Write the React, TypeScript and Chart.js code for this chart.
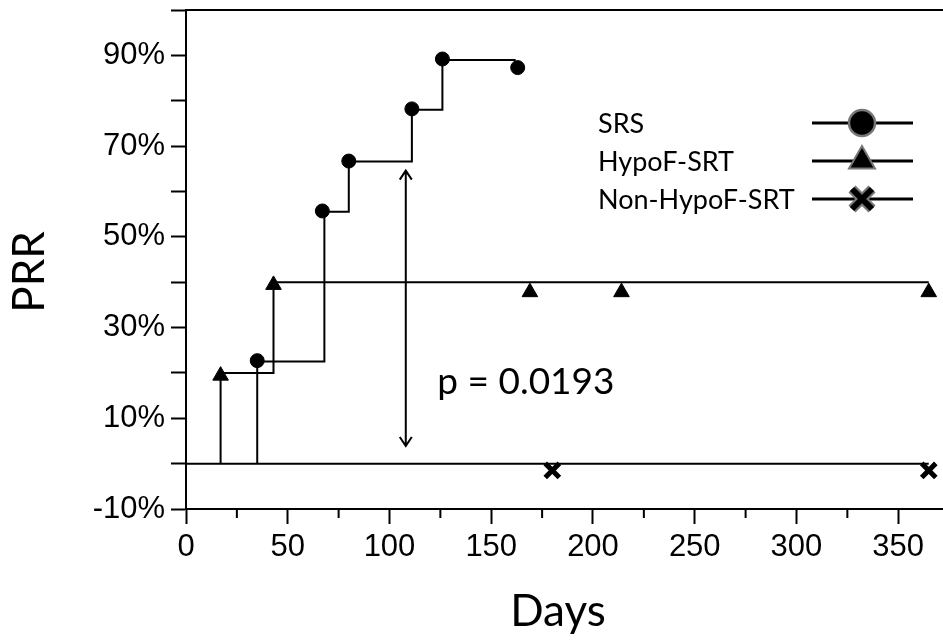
import { useEffect, useRef } from 'react';
import { Chart, registerables } from 'chart.js';

Chart.register(...registerables);

// ---- Data ----
const seriesNames = ['SRS', 'HypoF-SRT', 'Non-HypoF-SRT'];

const srsStepDays = [35, 35, 68, 80, 111, 126, 162];
const srsStepPRR = [0, 22.5, 55.5, 66.6, 78, 89, 89];
const srsMarkDays = [35, 67, 80, 111, 126, 163];
const srsMarkPRR = [22.7, 55.7, 66.7, 78.2, 89.2, 87.3];

const hypoStepDays = [17, 17, 43, 365];
const hypoStepPRR = [0, 20, 40, 40];
const hypoMarkDays = [17, 43, 169, 214, 365];
const hypoMarkPRR = [19.4, 39.4, 37.8, 37.8, 37.8];

const nonStepDays = [0, 365];
const nonStepPRR = [0, 0];
const nonMarkDays = [180, 365];
const nonMarkPRR = [-1.5, -1.5];

const xMin = 0;
const xMax = 372;
const xMajorStep = 50;
const xMinorTicks = [25, 75, 125, 175, 225, 275, 325];
const yMin = -10;
const yMax = 100;
const yLabelValues = [-10, 10, 30, 50, 70, 90];

const xTitle = 'Days';
const yTitle = 'PRR';
const pValueText = 'p = 0.0193';
const pValueDay = 123.5;
const pValuePRR = 15.3;
const arrowDay = 108;
const arrowTop = 64.6;
const arrowBottom = 3.9;

const tickFont = 'Liberation Sans';
const textFont = 'Lato';

function pts(xs: number[], ys: number[]) {
  return xs.map((x, i) => ({ x, y: ys[i] }));
}

const decorPlugin = {
  id: 'decor',
  afterDraw(chart: any) {
    const ctx: CanvasRenderingContext2D = chart.ctx;
    const xs = chart.scales.x;
    const ys = chart.scales.y;
    const area = chart.chartArea;
    ctx.save();
    ctx.strokeStyle = '#000';
    ctx.fillStyle = '#000';
    ctx.lineWidth = 2;

    // top frame line
    const yTop = ys.getPixelForValue(yMax);
    ctx.beginPath();
    ctx.moveTo(area.left, yTop);
    ctx.lineTo(chart.width, yTop);
    ctx.stroke();

    // minor x ticks
    ctx.beginPath();
    for (const v of xMinorTicks) {
      const px = xs.getPixelForValue(v);
      ctx.moveTo(px, area.bottom);
      ctx.lineTo(px, area.bottom + 9);
    }
    ctx.stroke();

    // double arrow
    const ax = xs.getPixelForValue(arrowDay);
    const at = ys.getPixelForValue(arrowTop);
    const ab = ys.getPixelForValue(arrowBottom);
    ctx.beginPath();
    ctx.moveTo(ax, at);
    ctx.lineTo(ax, ab);
    ctx.moveTo(ax - 6, at + 9);
    ctx.lineTo(ax, at);
    ctx.lineTo(ax + 6, at + 9);
    ctx.moveTo(ax - 6, ab - 9);
    ctx.lineTo(ax, ab);
    ctx.lineTo(ax + 6, ab - 9);
    ctx.stroke();

    // p value
    ctx.font = `37px ${textFont}`;
    ctx.textAlign = 'left';
    ctx.textBaseline = 'alphabetic';
    ctx.fillText(pValueText, xs.getPixelForValue(pValueDay), ys.getPixelForValue(pValuePRR));

    // axis titles
    ctx.font = `44px ${textFont}`;
    ctx.textAlign = 'center';
    ctx.textBaseline = 'middle';
    ctx.fillText(xTitle, 558, 612);
    ctx.save();
    ctx.translate(30, 272);
    ctx.rotate(-Math.PI / 2);
    ctx.fillText(yTitle, 0, 0);
    ctx.restore();

    // legend
    const rowY = [123, 161, 199];
    ctx.font = `27px ${textFont}`;
    ctx.textAlign = 'left';
    ctx.textBaseline = 'middle';
    seriesNames.forEach((name, i) => {
      const y = rowY[i];
      ctx.fillStyle = '#000';
      ctx.fillText(name, 598, y + 1);
      ctx.lineWidth = 3;
      ctx.strokeStyle = '#000';
      ctx.beginPath();
      ctx.moveTo(812, y);
      ctx.lineTo(913, y);
      ctx.stroke();
      const cx = 862;
      if (i === 0) {
        ctx.beginPath();
        ctx.arc(cx, y, 13, 0, Math.PI * 2);
        ctx.fillStyle = '#000';
        ctx.fill();
        ctx.lineWidth = 2.5;
        ctx.strokeStyle = '#777';
        ctx.stroke();
      } else if (i === 1) {
        const r = 15;
        ctx.beginPath();
        ctx.moveTo(cx, y - r);
        ctx.lineTo(cx + r * Math.sin((2 * Math.PI) / 3), y - r * Math.cos((2 * Math.PI) / 3));
        ctx.lineTo(cx + r * Math.sin((4 * Math.PI) / 3), y - r * Math.cos((4 * Math.PI) / 3));
        ctx.closePath();
        ctx.fillStyle = '#000';
        ctx.fill();
        ctx.lineWidth = 2;
        ctx.strokeStyle = '#777';
        ctx.stroke();
      } else {
        const d = 10;
        ctx.lineCap = 'butt';
        ctx.strokeStyle = '#777';
        ctx.lineWidth = 10;
        ctx.beginPath();
        ctx.moveTo(cx - d, y - d);
        ctx.lineTo(cx + d, y + d);
        ctx.moveTo(cx + d, y - d);
        ctx.lineTo(cx - d, y + d);
        ctx.stroke();
        ctx.strokeStyle = '#000';
        ctx.lineWidth = 6;
        ctx.stroke();
      }
    });
    ctx.restore();
  },
};

export default function App() {
  const canvasRef = useRef<HTMLCanvasElement | null>(null);

  useEffect(() => {
    document.body.style.margin = '0';
    const canvas = canvasRef.current;
    if (!canvas) return;

    const lineBase = {
      type: 'line' as const,
      showLine: true,
      stepped: true,
      borderColor: '#000',
      borderWidth: 2,
      pointRadius: 0,
      fill: false,
      order: 2,
    };
    const markBase = {
      showLine: false,
      borderColor: '#000',
      backgroundColor: '#000',
      order: 1,
      clip: false,
    };

    const chart = new Chart(canvas, {
      type: 'scatter',
      data: {
        datasets: [
          { ...lineBase, label: seriesNames[0] + ' line', data: pts(srsStepDays, srsStepPRR) },
          { ...lineBase, label: seriesNames[1] + ' line', data: pts(hypoStepDays, hypoStepPRR) },
          { ...lineBase, label: seriesNames[2] + ' line', data: pts(nonStepDays, nonStepPRR) },
          { ...markBase, label: seriesNames[0], data: pts(srsMarkDays, srsMarkPRR), pointStyle: 'circle', pointRadius: 7, borderWidth: 1 },
          { ...markBase, label: seriesNames[1], data: pts(hypoMarkDays, hypoMarkPRR), pointStyle: 'triangle', pointRadius: 9, borderWidth: 1 },
          { ...markBase, label: seriesNames[2], data: pts(nonMarkDays, nonMarkPRR), pointStyle: 'crossRot', pointRadius: 10, borderWidth: 5 },
        ] as any,
      },
      options: {
        responsive: false,
        animation: false,
        devicePixelRatio: 1,
        layout: { autoPadding: false, padding: { top: 10, right: 0, bottom: 0, left: 0 } },
        plugins: {
          legend: { display: false },
          tooltip: { enabled: false },
        },
        scales: {
          x: {
            type: 'linear',
            min: xMin,
            max: xMax,
            ticks: {
              stepSize: xMajorStep,
              includeBounds: false,
              autoSkip: false,
              maxRotation: 0,
              color: '#000',
              padding: 5,
              font: { family: tickFont, size: 31 },
              callback: (v: any) => String(v),
            },
            grid: {
              drawOnChartArea: false,
              drawTicks: true,
              tickLength: 15,
              tickWidth: 2,
              tickColor: '#000',
            },
            border: { display: true, color: '#000', width: 2 },
            afterFit: (s: any) => {
              s.height = 131;
              s.paddingLeft = 0;
              s.paddingRight = 0;
            },
          },
          y: {
            type: 'linear',
            min: yMin,
            max: yMax,
            ticks: {
              stepSize: 10,
              autoSkip: false,
              color: '#000',
              padding: 6,
              font: { family: tickFont, size: 31 },
              callback: (v: any) => (yLabelValues.includes(Number(v)) ? `${v}%` : ''),
            },
            grid: {
              drawOnChartArea: false,
              drawTicks: true,
              tickLength: 15,
              tickWidth: 2,
              tickColor: '#000',
            },
            border: { display: true, color: '#000', width: 2 },
            afterFit: (s: any) => {
              s.width = 186;
              s.paddingTop = 0;
              s.paddingBottom = 0;
            },
          },
        },
      } as any,
      plugins: [decorPlugin],
    });

    return () => chart.destroy();
  }, []);

  return (
    <div style={{ width: 943, height: 640 }}>
      <canvas ref={canvasRef} width={943} height={640} style={{ display: 'block' }} />
    </div>
  );
}
